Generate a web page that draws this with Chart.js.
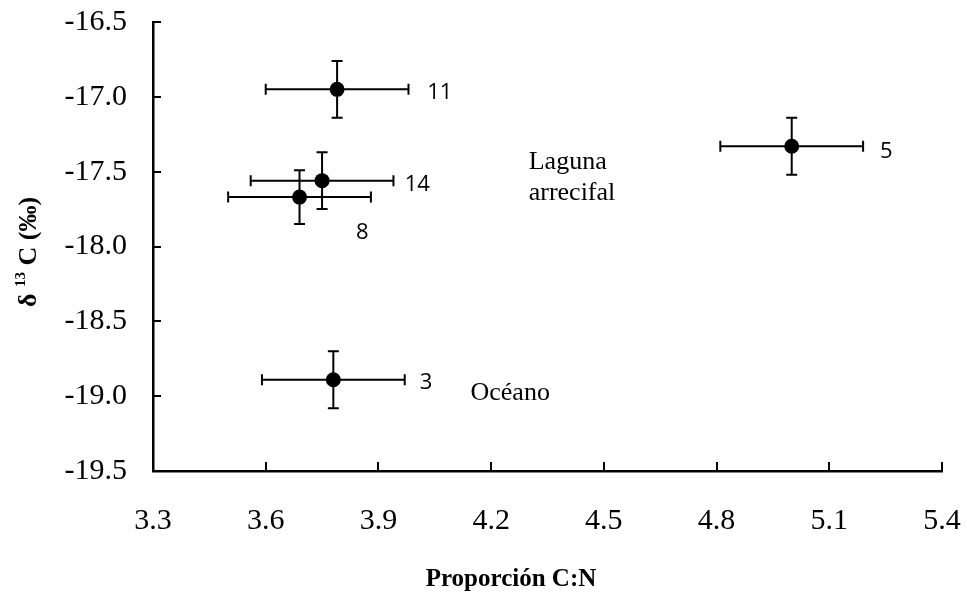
<!DOCTYPE html>
<html>
<head>
<meta charset="utf-8">
<script src="https://cdn.jsdelivr.net/npm/chart.js@4/dist/chart.umd.min.js"></script>
<style>
  html, body { margin: 0; padding: 0; background: #ffffff; }
  canvas { display: block; }
</style>
</head>
<body>
<canvas id="c" width="967" height="592"></canvas>
<script>
// ---- Data ----
const sampleSizes = ['11', '14', '8', '5', '3'];
const cnRatio     = [3.79, 3.75, 3.69, 5.00, 3.78];
const d13C        = [-16.95, -17.56, -17.67, -17.33, -18.89];
const cnErr       = [0.19, 0.19, 0.19, 0.19, 0.19];
const d13CErr     = [0.19, 0.19, 0.18, 0.19, 0.19];

// annotation anchors (data units)
const sampleLabelX = [4.03, 3.97, 3.84, 5.235, 4.01];
const sampleLabelY = [-16.97, -17.59, -17.91, -17.37, -18.91];
const regionLines  = ['Laguna', 'arrecifal', 'Océano'];
const regionX      = [4.30, 4.30, 4.145];
const regionY      = [-17.484, -17.689, -19.025];

const xTicks = [3.3, 3.6, 3.9, 4.2, 4.5, 4.8, 5.1, 5.4];
const yTicks = [-16.5, -17.0, -17.5, -18.0, -18.5, -19.0, -19.5];

const xTitle = 'Proporción C:N';
const yTitleParts = ['δ ', '13', ' C (‰)'];

const serif = '"Liberation Serif", "Times New Roman", serif';

const points = cnRatio.map((x, i) => ({ x: x, y: d13C[i] }));

const extrasPlugin = {
  id: 'extras',
  beforeDatasetsDraw(chart) {
    const ctx = chart.ctx;
    const xs = chart.scales.x, ys = chart.scales.y;
    ctx.save();
    ctx.strokeStyle = '#000';
    ctx.lineWidth = 2;
    const cap = 5.5;
    cnRatio.forEach((xv, i) => {
      const yv = d13C[i];
      const px = xs.getPixelForValue(xv), py = ys.getPixelForValue(yv);
      const xl = xs.getPixelForValue(xv - cnErr[i]), xr = xs.getPixelForValue(xv + cnErr[i]);
      const yt = ys.getPixelForValue(yv + d13CErr[i]), yb = ys.getPixelForValue(yv - d13CErr[i]);
      ctx.beginPath();
      ctx.moveTo(xl, py); ctx.lineTo(xr, py);
      ctx.moveTo(xl, py - cap); ctx.lineTo(xl, py + cap);
      ctx.moveTo(xr, py - cap); ctx.lineTo(xr, py + cap);
      ctx.moveTo(px, yt); ctx.lineTo(px, yb);
      ctx.moveTo(px - cap, yt); ctx.lineTo(px + cap, yt);
      ctx.moveTo(px - cap, yb); ctx.lineTo(px + cap, yb);
      ctx.stroke();
    });
    ctx.restore();
  },
  afterDraw(chart) {
    const ctx = chart.ctx;
    const xs = chart.scales.x, ys = chart.scales.y;
    const area = chart.chartArea;
    ctx.save();
    // inward tick marks
    ctx.strokeStyle = '#000';
    ctx.lineWidth = 2;
    ctx.beginPath();
    xTicks.forEach(v => {
      const px = Math.round(xs.getPixelForValue(v));
      ctx.moveTo(px, area.bottom); ctx.lineTo(px, area.bottom - 9);
    });
    yTicks.forEach(v => {
      const py = Math.round(ys.getPixelForValue(v));
      ctx.moveTo(area.left, py); ctx.lineTo(area.left + 8, py);
    });
    ctx.stroke();

    // sample size labels
    ctx.fillStyle = '#000';
    ctx.font = '22px "Open Sans", sans-serif';
    ctx.textAlign = 'left';
    ctx.textBaseline = 'middle';
    sampleSizes.forEach((t, i) => {
      ctx.fillText(t, xs.getPixelForValue(sampleLabelX[i]), ys.getPixelForValue(sampleLabelY[i]));
    });

    // region labels
    ctx.font = '26px ' + serif;
    ctx.textBaseline = 'alphabetic';
    regionLines.forEach((t, i) => {
      ctx.fillText(t, xs.getPixelForValue(regionX[i]), ys.getPixelForValue(regionY[i]));
    });

    // x title
    ctx.font = 'bold 25px ' + serif;
    ctx.textAlign = 'center';
    ctx.fillText(xTitle, 511, 586);

    // y title (rotated) with superscript
    const big = 'bold 26px ' + serif, small = 'bold 15px ' + serif;
    ctx.font = big; const w0 = ctx.measureText(yTitleParts[0]).width;
    ctx.font = small; const w1 = ctx.measureText(yTitleParts[1]).width;
    ctx.font = big; const w2 = ctx.measureText(yTitleParts[2]).width;
    const total = w0 + w1 + w2;
    ctx.translate(36, 252);
    ctx.rotate(-Math.PI / 2);
    ctx.textAlign = 'left';
    let sx = -total / 2;
    ctx.font = big; ctx.fillText(yTitleParts[0], sx, 0); sx += w0;
    ctx.font = small; ctx.fillText(yTitleParts[1], sx, -11); sx += w1;
    ctx.font = big; ctx.fillText(yTitleParts[2], sx, 0);
    ctx.restore();
  }
};

new Chart(document.getElementById('c'), {
  type: 'scatter',
  data: {
    datasets: [{
      data: points,
      pointRadius: 7.5,
      pointHoverRadius: 7.5,
      backgroundColor: '#000',
      borderColor: '#000',
      borderWidth: 0
    }]
  },
  options: {
    responsive: false,
    animation: false,
    events: [],
    layout: { padding: { left: 0, top: 22, right: 25, bottom: 0 } },
    plugins: { legend: { display: false }, tooltip: { enabled: false } },
    scales: {
      x: {
        type: 'linear',
        min: 3.3, max: 5.4,
        afterFit(s) { s.height = 121; s.paddingLeft = 0; s.paddingRight = 0; },
        afterBuildTicks(s) { s.ticks = xTicks.map(v => ({ value: v })); },
        grid: { display: false, drawTicks: false, tickLength: 0 },
        border: { display: true, color: '#000', width: 2.5 },
        ticks: {
          padding: 32,
          color: '#000',
          font: { family: serif, size: 30 },
          maxRotation: 0,
          callback: v => Number(v).toFixed(1)
        }
      },
      y: {
        type: 'linear',
        min: -19.5, max: -16.5,
        afterFit(s) { s.width = 153; s.paddingTop = 0; s.paddingBottom = 0; },
        afterBuildTicks(s) { s.ticks = yTicks.map(v => ({ value: v })); },
        grid: { display: false, drawTicks: false, tickLength: 0 },
        border: { display: true, color: '#000', width: 2.5 },
        ticks: {
          padding: 26,
          color: '#000',
          font: { family: serif, size: 30 },
          callback: v => Number(v).toFixed(1)
        }
      }
    }
  },
  plugins: [extrasPlugin]
});
</script>
</body>
</html>
